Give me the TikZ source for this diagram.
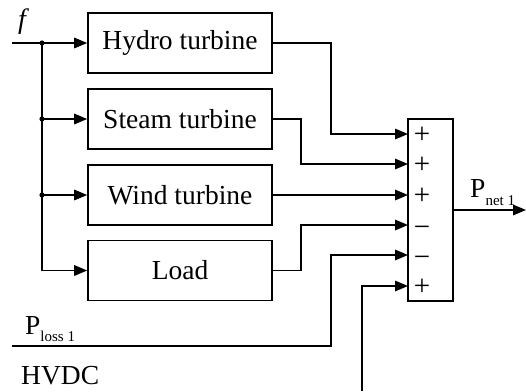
\documentclass[tikz,border=0pt]{standalone}
\usepackage{fontspec}
\setmainfont{Liberation Serif}
\usetikzlibrary{arrows.meta,calc}
\begin{document}
\begin{tikzpicture}[x=1pt,y=-1pt,
 blk/.style={draw,line width=1.6pt,minimum width=184pt,minimum height=60pt,inner sep=0pt,font=\fontsize{27.5}{30}\selectfont},
 wire/.style={line width=1.6pt},
 arr/.style={wire,-{Triangle[length=13pt,width=10.5pt]}},
 sign/.style={inner sep=0pt,anchor=base,font=\fontsize{29}{31}\selectfont},
 lbl/.style={inner sep=0pt,anchor=base west,font=\fontsize{27.5}{30}\selectfont}]
\useasboundingbox (0,0) rectangle (526,391);
% blocks
\node[blk] (hydro) at (180,43) {Hydro turbine};
\node[blk] (steam) at (180,119) {Steam turbine};
\node[blk] (wind) at (180,195) {Wind turbine};
\node[blk] (load) at (180,270.5) {Load};
\node[draw,line width=1.6pt,minimum width=45pt,minimum height=182pt,inner sep=0pt] (sum) at (430.5,210) {};
% input distribution
\coordinate (fin) at (12,43);
\coordinate (j1) at (42,43);
\coordinate (j2) at (42,119);
\coordinate (j3) at (42,195);
\coordinate (j4) at (42,270.5);
\draw[wire] (fin) -- (j1);
\draw[wire] (j1) -- (j4);
\draw[arr] (j1) -- (hydro.west);
\draw[arr] (j2) -- (steam.west);
\draw[arr] (j3) -- (wind.west);
\draw[arr] (j4) -- (load.west);
\foreach \j in {j1,j2,j3} \fill (\j) circle (2.6pt);
% summing inputs
\coordinate (s1) at (408,134);
\coordinate (s2) at (408,164);
\coordinate (s3) at (408,195);
\coordinate (s4) at (408,225);
\coordinate (s5) at (408,255);
\coordinate (s6) at (408,286);
\coordinate (pl) at (12,346);
\coordinate (hv) at (362,391);
\coordinate (out) at (526,210);
\draw[arr] (hydro.east) -| (331,134) -- (s1);
\draw[arr] (steam.east) -| (301,164) -- (s2);
\draw[arr] (wind.east) -- (s3);
\draw[arr] (load.east) -| (301,225) -- (s4);
\draw[arr] (pl) -| (331,255) -- (s5);
\draw[arr] (hv) |- (s6);
\draw[arr] (sum.east) -- (out);
% signs
\node[sign] (p1) at (422,143.5) {+};
\node[sign] (p2) at (422,173.5) {+};
\node[sign] (p3) at (422,204.5) {+};
\node[sign] (m4) at (422,236) {−};
\node[sign] (m5) at (422,266) {−};
\node[sign] (p6) at (422,295.5) {+};
% labels
\node[lbl,font=\fontsize{28}{30}\selectfont\itshape] (flab) at (18,28) {f};
\node[lbl] (pnet) at (470,197) {P\raisebox{-8pt}{\fontsize{15}{17}\selectfont net 1}};
\node[lbl] (ploss) at (25,334) {P\raisebox{-7.5pt}{\fontsize{15}{17}\selectfont loss 1}};
\node[lbl] (hvdc) at (21,384) {HVDC};
\end{tikzpicture}
\end{document}
